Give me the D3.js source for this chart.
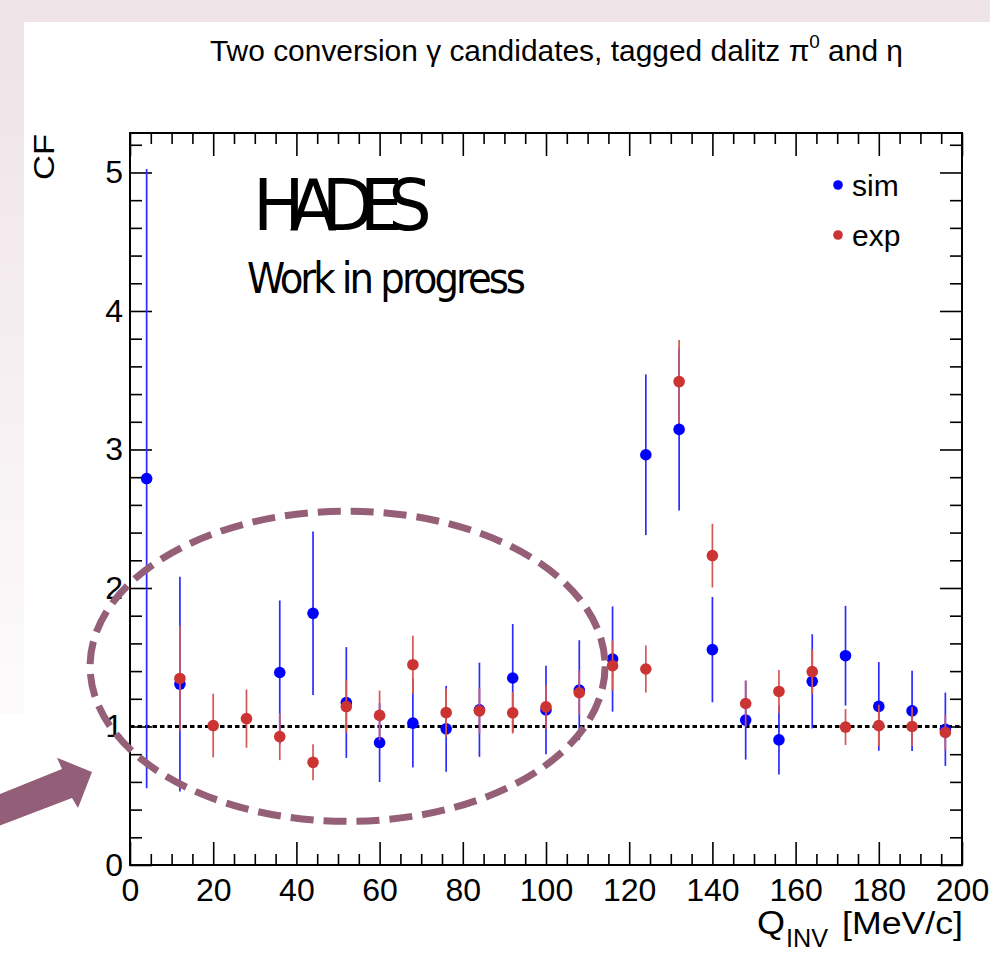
<!DOCTYPE html>
<html><head><meta charset="utf-8">
<script src="https://cdn.jsdelivr.net/npm/d3@7"></script>
<style>body{margin:0;background:#fff;} svg{display:block;}</style>
</head><body>
<svg id="c" width="990" height="955"></svg>
<script>
// ---- data ----
const binCenters = [4,12,20,28,36,44,52,60,68,76,84,92,100,108,116,124,132,140,148,156,164,172,180,188,196];
const simValues = [2.79,1.306,null,null,1.39,1.817,1.173,0.884,1.024,0.983,1.121,1.35,1.119,1.263,1.487,2.962,3.145,1.555,1.046,0.904,1.326,1.511,1.145,1.113,0.98];
const simErrors = [2.235,0.775,null,null,0.52,0.59,0.40,0.285,0.32,0.31,0.34,0.39,0.32,0.36,0.38,0.58,0.585,0.38,0.285,0.25,0.34,0.36,0.32,0.29,0.265];
const expValues = [null,1.347,1.007,1.057,0.927,0.741,1.144,1.08,1.446,1.10,1.113,1.099,1.142,1.244,1.439,1.415,3.49,2.234,1.166,1.253,1.396,0.996,1.007,1.0,0.957];
const expErrors = [null,0.38,0.23,0.21,0.17,0.13,0.19,0.18,0.21,0.175,0.165,0.15,0.16,0.16,0.18,0.17,0.30,0.23,0.165,0.155,0.16,0.13,0.15,0.14,0.13];
const xMajorTicks = [0,20,40,60,80,100,120,140,160,180,200];
const yMajorTicks = [0,1,2,3,4,5];
const seriesNames = ["sim","exp"];
const referenceLevel = 1;

// ---- layout ----
const svg = d3.select("#c");
const FONT = "'Liberation Sans', Arial, Helvetica, sans-serif";
const P = {left:130, right:962, top:133, bottom:865};
const x = d3.scaleLinear().domain([0,200]).range([P.left,P.right]);
const y = d3.scaleLinear().domain([0,5.285]).range([P.bottom,P.top]);

// background slide
const defs = svg.append("defs");
const lg = defs.append("linearGradient").attr("id","lg").attr("x1",0).attr("y1",0).attr("x2",0).attr("y2",1);
lg.append("stop").attr("offset","0%").attr("stop-color","#eee3e7");
lg.append("stop").attr("offset","100%").attr("stop-color","#fdfbfc");
svg.append("rect").attr("width",990).attr("height",955).attr("fill","#fff");
svg.append("rect").attr("x",0).attr("y",0).attr("width",990).attr("height",22).attr("fill","#eee4e8");
svg.append("rect").attr("x",0).attr("y",22).attr("width",24).attr("height",692).attr("fill","url(#lg)");

// title
const title = svg.append("text").attr("x",210).attr("y",61)
  .attr("font-family",FONT).attr("font-size",30).attr("fill","#000")
  .attr("textLength",693).attr("lengthAdjust","spacingAndGlyphs");
title.append("tspan").text("Two conversion \u03b3 candidates, tagged dalitz \u03c0");
title.append("tspan").attr("font-size",19).attr("dy",-13).text("0");
title.append("tspan").attr("dy",13).text(" and \u03b7");

// axes
const xMinor = d3.range(0,200.001,5).filter(v=>v%20!==0);
const yMinor = d3.range(0,5.2801,0.2).filter(v=>Math.abs(v-Math.round(v))>1e-6);

function styleAxis(g){
  g.attr("font-size",null).attr("font-family",null);
  g.select(".domain").remove();
  g.selectAll(".tick line").attr("stroke","#000").attr("stroke-width",1.6);
  g.selectAll("text").style("font-family",FONT).style("font-size","32px").attr("fill","#000");
}
svg.append("g").attr("transform",`translate(0,${P.bottom})`)
  .call(d3.axisBottom(x).tickValues(xMajorTicks).tickSize(-23).tickPadding(13).tickFormat(d3.format("d"))).call(styleAxis);
svg.append("g").attr("transform",`translate(0,${P.bottom})`)
  .call(d3.axisBottom(x).tickValues(xMinor).tickSize(-11).tickFormat("")).call(styleAxis);
svg.append("g").attr("transform",`translate(0,${P.top})`)
  .call(d3.axisTop(x).tickValues(xMajorTicks).tickSize(-23).tickFormat("")).call(styleAxis);
svg.append("g").attr("transform",`translate(0,${P.top})`)
  .call(d3.axisTop(x).tickValues(xMinor).tickSize(-11).tickFormat("")).call(styleAxis);
svg.append("g").attr("transform",`translate(${P.left},0)`)
  .call(d3.axisLeft(y).tickValues(yMajorTicks).tickSize(-22).tickPadding(7).tickFormat(d3.format("d"))).call(styleAxis);
svg.append("g").attr("transform",`translate(${P.left},0)`)
  .call(d3.axisLeft(y).tickValues(yMinor).tickSize(-12).tickFormat("")).call(styleAxis);
svg.append("g").attr("transform",`translate(${P.right},0)`)
  .call(d3.axisRight(y).tickValues(yMajorTicks).tickSize(-22).tickFormat("")).call(styleAxis);
svg.append("g").attr("transform",`translate(${P.right},0)`)
  .call(d3.axisRight(y).tickValues(yMinor).tickSize(-12).tickFormat("")).call(styleAxis);

// frame
svg.append("rect").attr("x",P.left).attr("y",P.top).attr("width",P.right-P.left).attr("height",P.bottom-P.top)
  .attr("fill","none").attr("stroke","#000").attr("stroke-width",2);

// axis titles
svg.append("text").attr("transform",`translate(54,${P.top+1}) rotate(-90)`).attr("text-anchor","end")
  .attr("font-family",FONT).attr("font-size",29).attr("textLength",46).attr("lengthAdjust","spacingAndGlyphs").text("CF");
svg.append("text").attr("x",757).attr("y",934).attr("font-family",FONT).attr("font-size",33)
  .attr("textLength",28).attr("lengthAdjust","spacingAndGlyphs").text("Q");
svg.append("text").attr("x",786).attr("y",947).attr("font-family",FONT).attr("font-size",25)
  .attr("textLength",42).attr("lengthAdjust","spacingAndGlyphs").text("INV");
svg.append("text").attr("x",842).attr("y",934).attr("font-family",FONT).attr("font-size",31)
  .attr("textLength",121).attr("lengthAdjust","spacingAndGlyphs").text("[MeV/c]");

// reference line
svg.append("line").attr("x1",x(0)).attr("x2",x(200)).attr("y1",y(referenceLevel)).attr("y2",y(referenceLevel))
  .attr("stroke","#000").attr("stroke-width",3).attr("stroke-dasharray","4.5,3");

// HADES label
svg.append("text").attr("x",253).attr("y",230).attr("font-family","'DejaVu Sans', sans-serif").attr("font-size",72)
  .attr("font-stretch","condensed").attr("letter-spacing",-14)
  .attr("textLength",164).attr("lengthAdjust","spacingAndGlyphs").text("HADES");
svg.append("text").attr("x",247).attr("y",293).attr("font-family","'DejaVu Sans', sans-serif").attr("font-size",43)
  .attr("font-stretch","condensed").attr("letter-spacing",-3)
  .attr("textLength",276).attr("lengthAdjust","spacingAndGlyphs").text("Work in progress");

// data series
const series = [
  {name:seriesNames[0], values:simValues, errors:simErrors, marker:"#0000ff", bar:"#2b2bff"},
  {name:seriesNames[1], values:expValues, errors:expErrors, marker:"#cc3333", bar:"#d55656"}
];
series.forEach(s=>{
  const pts = binCenters.map((c,i)=>({c, v:s.values[i], e:s.errors[i]})).filter(d=>d.v!=null);
  const g = svg.append("g");
  g.selectAll("line").data(pts).join("line")
    .attr("x1",d=>x(d.c)).attr("x2",d=>x(d.c))
    .attr("y1",d=>y(d.v-d.e)).attr("y2",d=>y(d.v+d.e))
    .attr("stroke",s.bar).attr("stroke-width",1.7);
  g.selectAll("circle").data(pts).join("circle")
    .attr("cx",d=>x(d.c)).attr("cy",d=>y(d.v)).attr("r",5.8).attr("fill",s.marker);
});

// legend
const leg = svg.append("g");
series.forEach((s,i)=>{
  leg.append("circle").attr("cx",838).attr("cy",185+i*50).attr("r",4.8).attr("fill",s.marker);
  leg.append("text").attr("x",852).attr("y",196+i*50).attr("font-family",FONT).attr("font-size",30).text(s.name);
});

// annotation: dashed ellipse and arrow (data coordinates)
const ell = {cx:52.3, cy:1.435, rx:61.9, ry:1.12};
svg.append("ellipse").attr("cx",x(ell.cx)).attr("cy",y(ell.cy))
  .attr("rx",x(ell.cx+ell.rx)-x(ell.cx)).attr("ry",y(ell.cy)-y(ell.cy+ell.ry))
  .attr("fill","none").attr("stroke","#955f78").attr("stroke-width",7).attr("stroke-dasharray","23,10");
const arrowPts = [[-31.5,0.51],[-16.35,0.694],[-17.55,0.774],[-9.13,0.672],[-12.5,0.412],[-13.94,0.484],[-31.5,0.282]];
svg.append("polygon").attr("points",arrowPts.map(p=>[x(p[0]),y(p[1])].join(",")).join(" ")).attr("fill","#935e78");
</script>
</body></html>
